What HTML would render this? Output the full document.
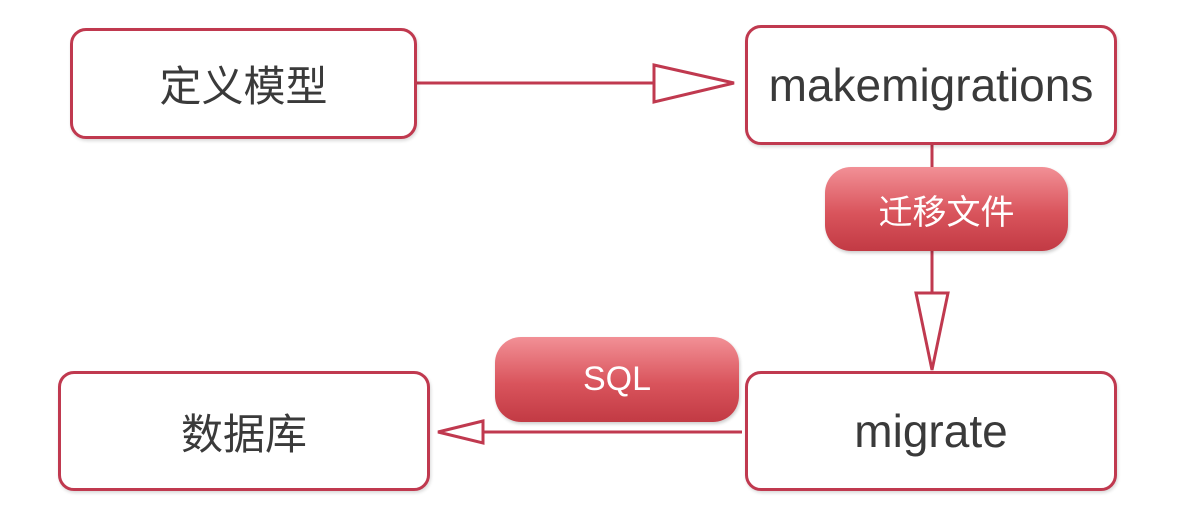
<!DOCTYPE html>
<html><head><meta charset="utf-8"><style>
body{margin:0;width:1204px;height:518px;background:#fff;overflow:hidden;position:relative;font-family:"Liberation Sans","Noto Sans CJK SC",sans-serif}
.b{position:absolute;box-sizing:border-box;border:3px solid #c0394f;border-radius:16px;background:#fff;display:flex;align-items:center;justify-content:center;color:#3a3a3a;box-shadow:1px 2px 3px rgba(0,0,0,.15)}
.p{position:absolute;border-radius:26px;background:linear-gradient(#f29096,#d9545c 55%,#c23a44);color:#fff;display:flex;align-items:center;justify-content:center;font-size:34px;box-shadow:1px 2px 3px rgba(0,0,0,.2)}
svg{position:absolute;left:0;top:0}
</style></head><body>
<svg width="1204" height="518">
<g stroke="#c0394f" stroke-width="3" fill="#fff">
<line x1="417" y1="83" x2="655" y2="83"/>
<polygon points="654,65 734,83 654,102"/>
<line x1="932" y1="145" x2="932" y2="293"/>
<polygon points="916,293 948,293 932,370"/>
<line x1="742" y1="432" x2="482" y2="432"/>
<polygon points="483,421 438,432 483,443"/>
</g></svg>
<div class="b" style="left:70px;top:28px;width:347px;height:111px;font-size:42px">定义模型</div>
<div class="b" style="left:745px;top:25px;width:372px;height:120px;font-size:46px">makemigrations</div>
<div class="b" style="left:745px;top:371px;width:372px;height:120px;font-size:46px">migrate</div>
<div class="b" style="left:58px;top:371px;width:372px;height:120px;font-size:42px">数据库</div>
<div class="p" style="left:825px;top:167px;width:243px;height:84px">迁移文件</div>
<div class="p" style="left:495px;top:337px;width:244px;height:85px">SQL</div>
</body></html>
